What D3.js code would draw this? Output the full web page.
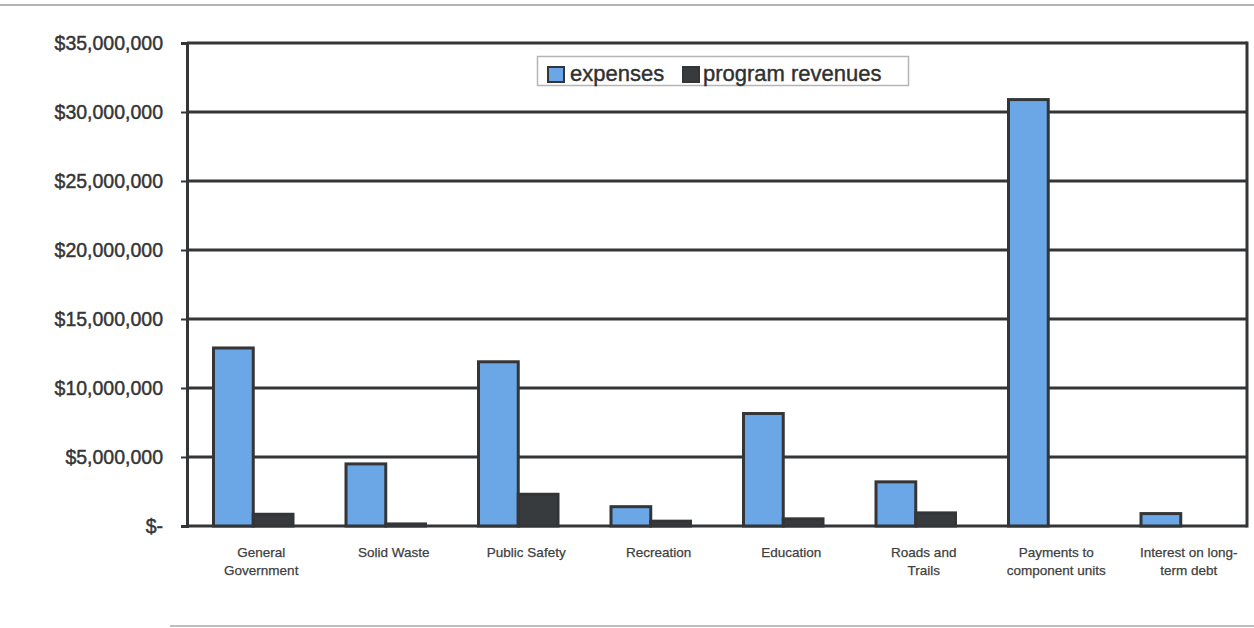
<!DOCTYPE html>
<html>
<head>
<meta charset="utf-8">
<script src="https://cdn.jsdelivr.net/npm/d3@7"></script>
<style>
  html, body { margin: 0; padding: 0; background: #fff; }
  svg { display: block; font-family: "Liberation Sans", Arial, sans-serif; }
</style>
</head>
<body>
<svg id="chart" width="1254" height="628"></svg>
<script>
// Government-wide activities: expenses vs. program revenues
const categories = [
  ["General", "Government"],
  ["Solid Waste"],
  ["Public Safety"],
  ["Recreation"],
  ["Education"],
  ["Roads and", "Trails"],
  ["Payments to", "component units"],
  ["Interest on long-", "term debt"]
];
const seriesNames = ["expenses", "program revenues"];
const expenses        = [12900000, 4500000, 11900000, 1400000, 8150000, 3200000, 30900000, 900000];
const programRevenues = [  850000,  150000,  2300000,  350000,  520000,  950000,        0,      0];
const yTicks = [0, 5000000, 10000000, 15000000, 20000000, 25000000, 30000000, 35000000];

const svg = d3.select("#chart");
const W = 1254, H = 628;
const plot = { left: 187, right: 1247, top: 43, bottom: 526 };
const ink = "#333537";
const blue = "#6ba6e6";
const dark = "#383b3e";

// faint page edges
svg.append("line").attr("x1", 0).attr("x2", W).attr("y1", 5).attr("y2", 5)
  .attr("stroke", "#9a9a9a").attr("stroke-width", 1.5);
svg.append("line").attr("x1", 170).attr("x2", W).attr("y1", 626).attr("y2", 626)
  .attr("stroke", "#a8a8a8").attr("stroke-width", 1.5);

const keys = categories.map(c => c.join(" "));
const x0 = d3.scaleBand().domain(keys).range([plot.left, plot.right]).padding(0);
const x1 = d3.scaleBand().domain(seriesNames)
  .range([x0.bandwidth() * 0.2, x0.bandwidth() * 0.8]).padding(0);
const y = d3.scaleLinear().domain([0, 35000000]).range([plot.bottom, plot.top]);

const fmt = v => v === 0 ? "$-" : "$" + d3.format(",")(v);

// horizontal gridlines
svg.append("g").selectAll("line").data(yTicks).join("line")
  .attr("x1", plot.left).attr("x2", plot.right)
  .attr("y1", d => y(d)).attr("y2", d => y(d))
  .attr("stroke", ink).attr("stroke-width", 3);

// y axis
const yAxis = d3.axisLeft(y).tickValues(yTicks).tickFormat(fmt).tickSize(6).tickPadding(18);
const gy = svg.append("g").attr("transform", `translate(${plot.left},0)`).call(yAxis);
gy.select(".domain").attr("stroke", ink).attr("stroke-width", 3);
gy.selectAll(".tick line").attr("stroke", ink).attr("stroke-width", 2);
gy.selectAll(".tick text")
  .attr("fill", "#353535").attr("font-size", 19.5)
  .attr("stroke", "#353535").attr("stroke-width", 0.45)
  .attr("font-family", "'Liberation Sans', Arial, sans-serif");

// right frame
svg.append("line").attr("x1", plot.right).attr("x2", plot.right)
  .attr("y1", plot.top - 1.5).attr("y2", plot.bottom + 1.5)
  .attr("stroke", ink).attr("stroke-width", 3);

// bars
const rows = keys.map((k, i) => ({ key: k, values: [
  { s: "expenses", v: expenses[i] },
  { s: "program revenues", v: programRevenues[i] }
]}));
const groups = svg.append("g").selectAll("g").data(rows).join("g")
  .attr("transform", d => `translate(${x0(d.key)},0)`);
groups.selectAll("rect").data(d => d.values.filter(e => e.v > 0)).join("rect")
  .attr("x", d => x1(d.s))
  .attr("width", x1.bandwidth())
  .attr("y", d => y(d.v))
  .attr("height", d => y(0) - y(d.v))
  .attr("fill", d => d.s === "expenses" ? blue : dark)
  .attr("stroke", ink).attr("stroke-width", 3);

// category labels
const xl = svg.append("g").selectAll("text").data(categories).join("text")
  .attr("x", (d, i) => x0(keys[i]) + x0.bandwidth() / 2 + 8)
  .attr("y", 557)
  .attr("text-anchor", "middle")
  .attr("font-size", 13.5)
  .attr("fill", "#404040")
  .attr("stroke", "#404040").attr("stroke-width", 0.25);
xl.selectAll("tspan").data(d => d).join("tspan")
  .attr("x", function () { return d3.select(this.parentNode).attr("x"); })
  .attr("dy", (d, i) => i === 0 ? 0 : 18)
  .text(d => d);

// legend
const lg = svg.append("g");
lg.append("rect").attr("x", 537.5).attr("y", 56.5).attr("width", 371).attr("height", 29)
  .attr("fill", "#fff").attr("stroke", "#b5b5b5").attr("stroke-width", 1.5);
const legendItems = [
  { name: "expenses", fill: blue, sx: 548, tx: 570 },
  { name: "program revenues", fill: dark, sx: 683, tx: 703 }
];
legendItems.forEach(it => {
  lg.append("rect").attr("x", it.sx).attr("y", 67).attr("width", 16).attr("height", 15)
    .attr("fill", it.fill).attr("stroke", ink).attr("stroke-width", 2);
  lg.append("text").attr("x", it.tx).attr("y", 81)
    .attr("font-size", 22).attr("fill", "#303030")
    .attr("stroke", "#303030").attr("stroke-width", 0.4).text(it.name);
});
</script>
</body>
</html>
